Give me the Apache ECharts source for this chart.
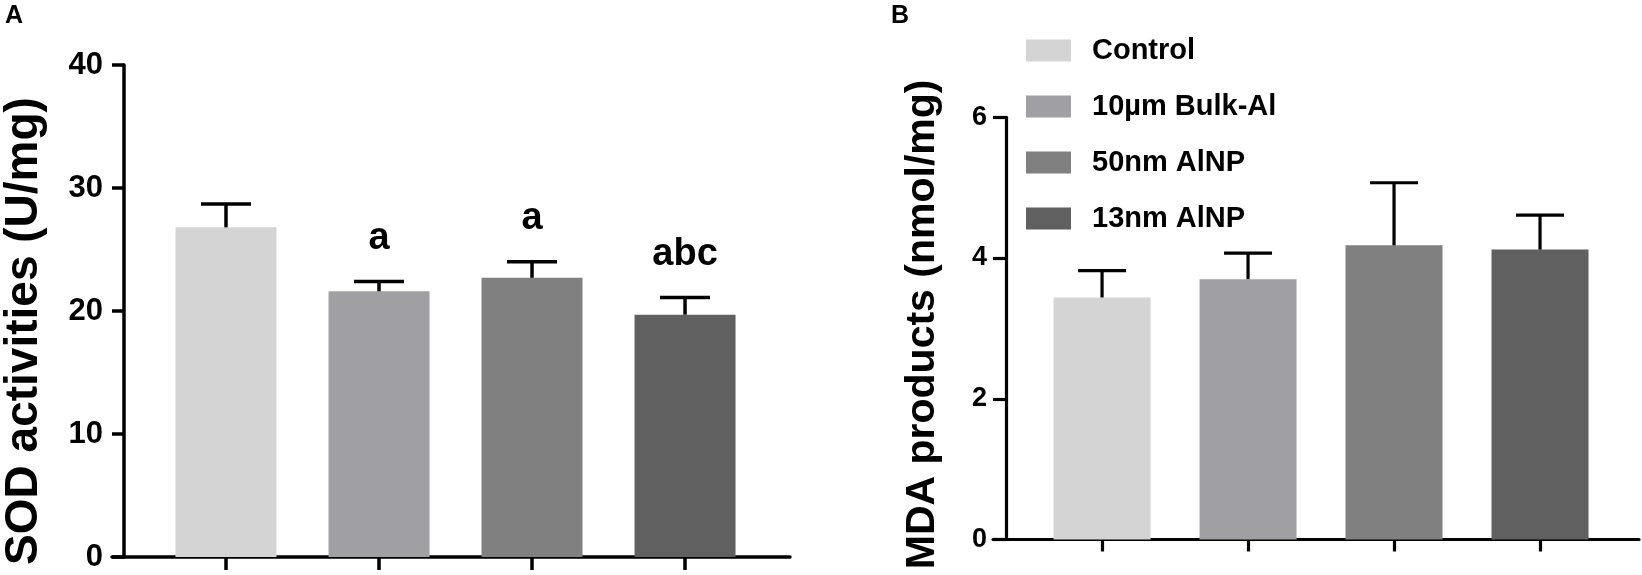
<!DOCTYPE html>
<html>
<head>
<meta charset="utf-8">
<script src="https://cdn.jsdelivr.net/npm/echarts@6/dist/echarts.min.js"></script>
<style>
  html, body { margin: 0; padding: 0; background: #ffffff; }
  #chart { width: 1642px; height: 575px; }
</style>
</head>
<body>
<div id="chart"></div>
<script>
// ---- data ----
const categories = ['Control', '10\u00b5m Bulk-Al', '50nm AlNP', '13nm AlNP'];
const categoryIndex = [0, 1, 2, 3];
const sodMean = [26.8, 21.6, 22.7, 19.7];
const sodErr = [1.9, 0.8, 1.3, 1.4];
const sodSig = ['', 'a', 'a', 'abc'];
const sodTicks = [0, 10, 20, 30, 40];
const mdaMean = [3.44, 3.70, 4.18, 4.12];
const mdaErr = [0.38, 0.37, 0.89, 0.49];
const mdaTicks = [0, 2, 4, 6];

// ---- styles ----
const barColors = ['#d4d4d4', '#a0a0a4', '#808080', '#606060'];
const SANS = "'Liberation Sans', Arial, sans-serif";

const chart = echarts.init(document.getElementById('chart'), null, { renderer: 'canvas' });

function makeErrSeries(name, xAxisIndex, yAxisIndex, means, errs, sig, lw, capHalf) {
  return {
    type: 'custom',
    name: name,
    xAxisIndex: xAxisIndex,
    yAxisIndex: yAxisIndex,
    z: 5,
    silent: true,
    data: categoryIndex.map(i => [i, means[i], means[i] + errs[i], i]),
    renderItem: function (params, api) {
      const i = api.value(3);
      const base = api.coord([api.value(0), api.value(1)]);
      const top = api.coord([api.value(0), api.value(2)]);
      const children = [
        { type: 'line', shape: { x1: base[0], y1: base[1], x2: top[0], y2: top[1] },
          style: { stroke: '#000', lineWidth: lw } },
        { type: 'line', shape: { x1: top[0] - capHalf, y1: top[1], x2: top[0] + capHalf, y2: top[1] },
          style: { stroke: '#000', lineWidth: lw } }
      ];
      if (sig && sig[i]) {
        children.push({
          type: 'text',
          style: { text: sig[i], x: top[0], y: top[1] - 43, align: 'center', verticalAlign: 'middle',
                   fill: '#000', font: 'bold 38px ' + SANS }
        });
      }
      return { type: 'group', children: children };
    }
  };
}

const series = [];
categories.forEach((c, i) => {
  series.push({
    type: 'bar', name: 'SOD ' + c, xAxisIndex: 0, yAxisIndex: 0,
    barWidth: 101, barGap: '-100%',
    itemStyle: { color: barColors[i] },
    data: [[categoryIndex[i], sodMean[i]]]
  });
});
categories.forEach((c, i) => {
  series.push({
    type: 'bar', name: c, xAxisIndex: 1, yAxisIndex: 1,
    barWidth: 97, barGap: '-100%',
    itemStyle: { color: barColors[i] },
    data: [[categoryIndex[i], mdaMean[i]]]
  });
});
series.push(makeErrSeries('sodErr', 0, 0, sodMean, sodErr, sodSig, 3.5, 25));
series.push(makeErrSeries('mdaErr', 1, 1, mdaMean, mdaErr, null, 3.2, 24));

const option = {
  backgroundColor: '#ffffff',
  animation: false,
  title: [
    { text: 'A', left: 0, top: -1, textStyle: { fontFamily: SANS, fontWeight: 'bold', fontSize: 25, color: '#000' } },
    { text: 'B', left: 886, top: -1, textStyle: { fontFamily: SANS, fontWeight: 'bold', fontSize: 25, color: '#000' } }
  ],
  legend: {
    data: categories,
    orient: 'vertical',
    left: 1021,
    top: 31,
    itemWidth: 45,
    itemHeight: 22,
    itemGap: 27,
    icon: 'rect',
    selectedMode: false,
    textStyle: { fontFamily: SANS, fontWeight: 'bold', fontSize: 29, color: '#000',
                 padding: [0, 0, 0, 16] }
  },
  grid: [
    { left: 112, top: 65, width: 678, height: 492, outerBoundsMode: 'none', containLabel: false },
    { left: 993, top: 117.3, width: 646, height: 422.2, outerBoundsMode: 'none', containLabel: false }
  ],
  xAxis: [
    { type: 'value', gridIndex: 0, min: -0.745, max: 3.686,
      splitLine: { show: false },
      axisLine: { show: true, onZero: false, lineStyle: { color: '#000', width: 3.5 } },
      axisTick: { show: true, customValues: categoryIndex, length: 13, lineStyle: { color: '#000', width: 3.5 } },
      axisLabel: { show: false } },
    { type: 'value', gridIndex: 1, min: -0.747, max: 3.678,
      splitLine: { show: false },
      axisLine: { show: true, onZero: false, lineStyle: { color: '#000', width: 3.2 } },
      axisTick: { show: true, customValues: categoryIndex, length: 12, lineStyle: { color: '#000', width: 3.2 } },
      axisLabel: { show: false } }
  ],
  yAxis: [
    { type: 'value', gridIndex: 0, min: sodTicks[0], max: sodTicks[sodTicks.length - 1], interval: 10,
      offset: -12,
      name: 'SOD activities (U/mg)', nameLocation: 'middle', nameGap: 77, nameRotate: 90,
      nameTextStyle: { fontFamily: SANS, fontWeight: 'bold', fontSize: 46, color: '#000', padding: [0, 40, 0, 0] },
      splitLine: { show: false },
      axisLine: { show: true, onZero: false, lineStyle: { color: '#000', width: 3.5 } },
      axisTick: { show: true, length: 12, lineStyle: { color: '#000', width: 3.5 } },
      axisLabel: { fontFamily: SANS, fontWeight: 'bold', fontSize: 31, color: '#000', margin: 21 } },
    { type: 'value', gridIndex: 1, min: mdaTicks[0], max: mdaTicks[mdaTicks.length - 1], interval: 2,
      offset: -13,
      name: 'MDA products (nmol/mg)', nameLocation: 'middle', nameGap: 63, nameRotate: 90,
      nameTextStyle: { fontFamily: SANS, fontWeight: 'bold', fontSize: 41, color: '#000', padding: [0, 0, 0, 8] },
      splitLine: { show: false },
      axisLine: { show: true, onZero: false, lineStyle: { color: '#000', width: 3.2 } },
      axisTick: { show: true, length: 13, lineStyle: { color: '#000', width: 3.2 } },
      axisLabel: { fontFamily: SANS, fontWeight: 'bold', fontSize: 27, color: '#000', margin: 19 } }
  ],
  series: series
};
chart.setOption(option);
</script>
</body>
</html>
